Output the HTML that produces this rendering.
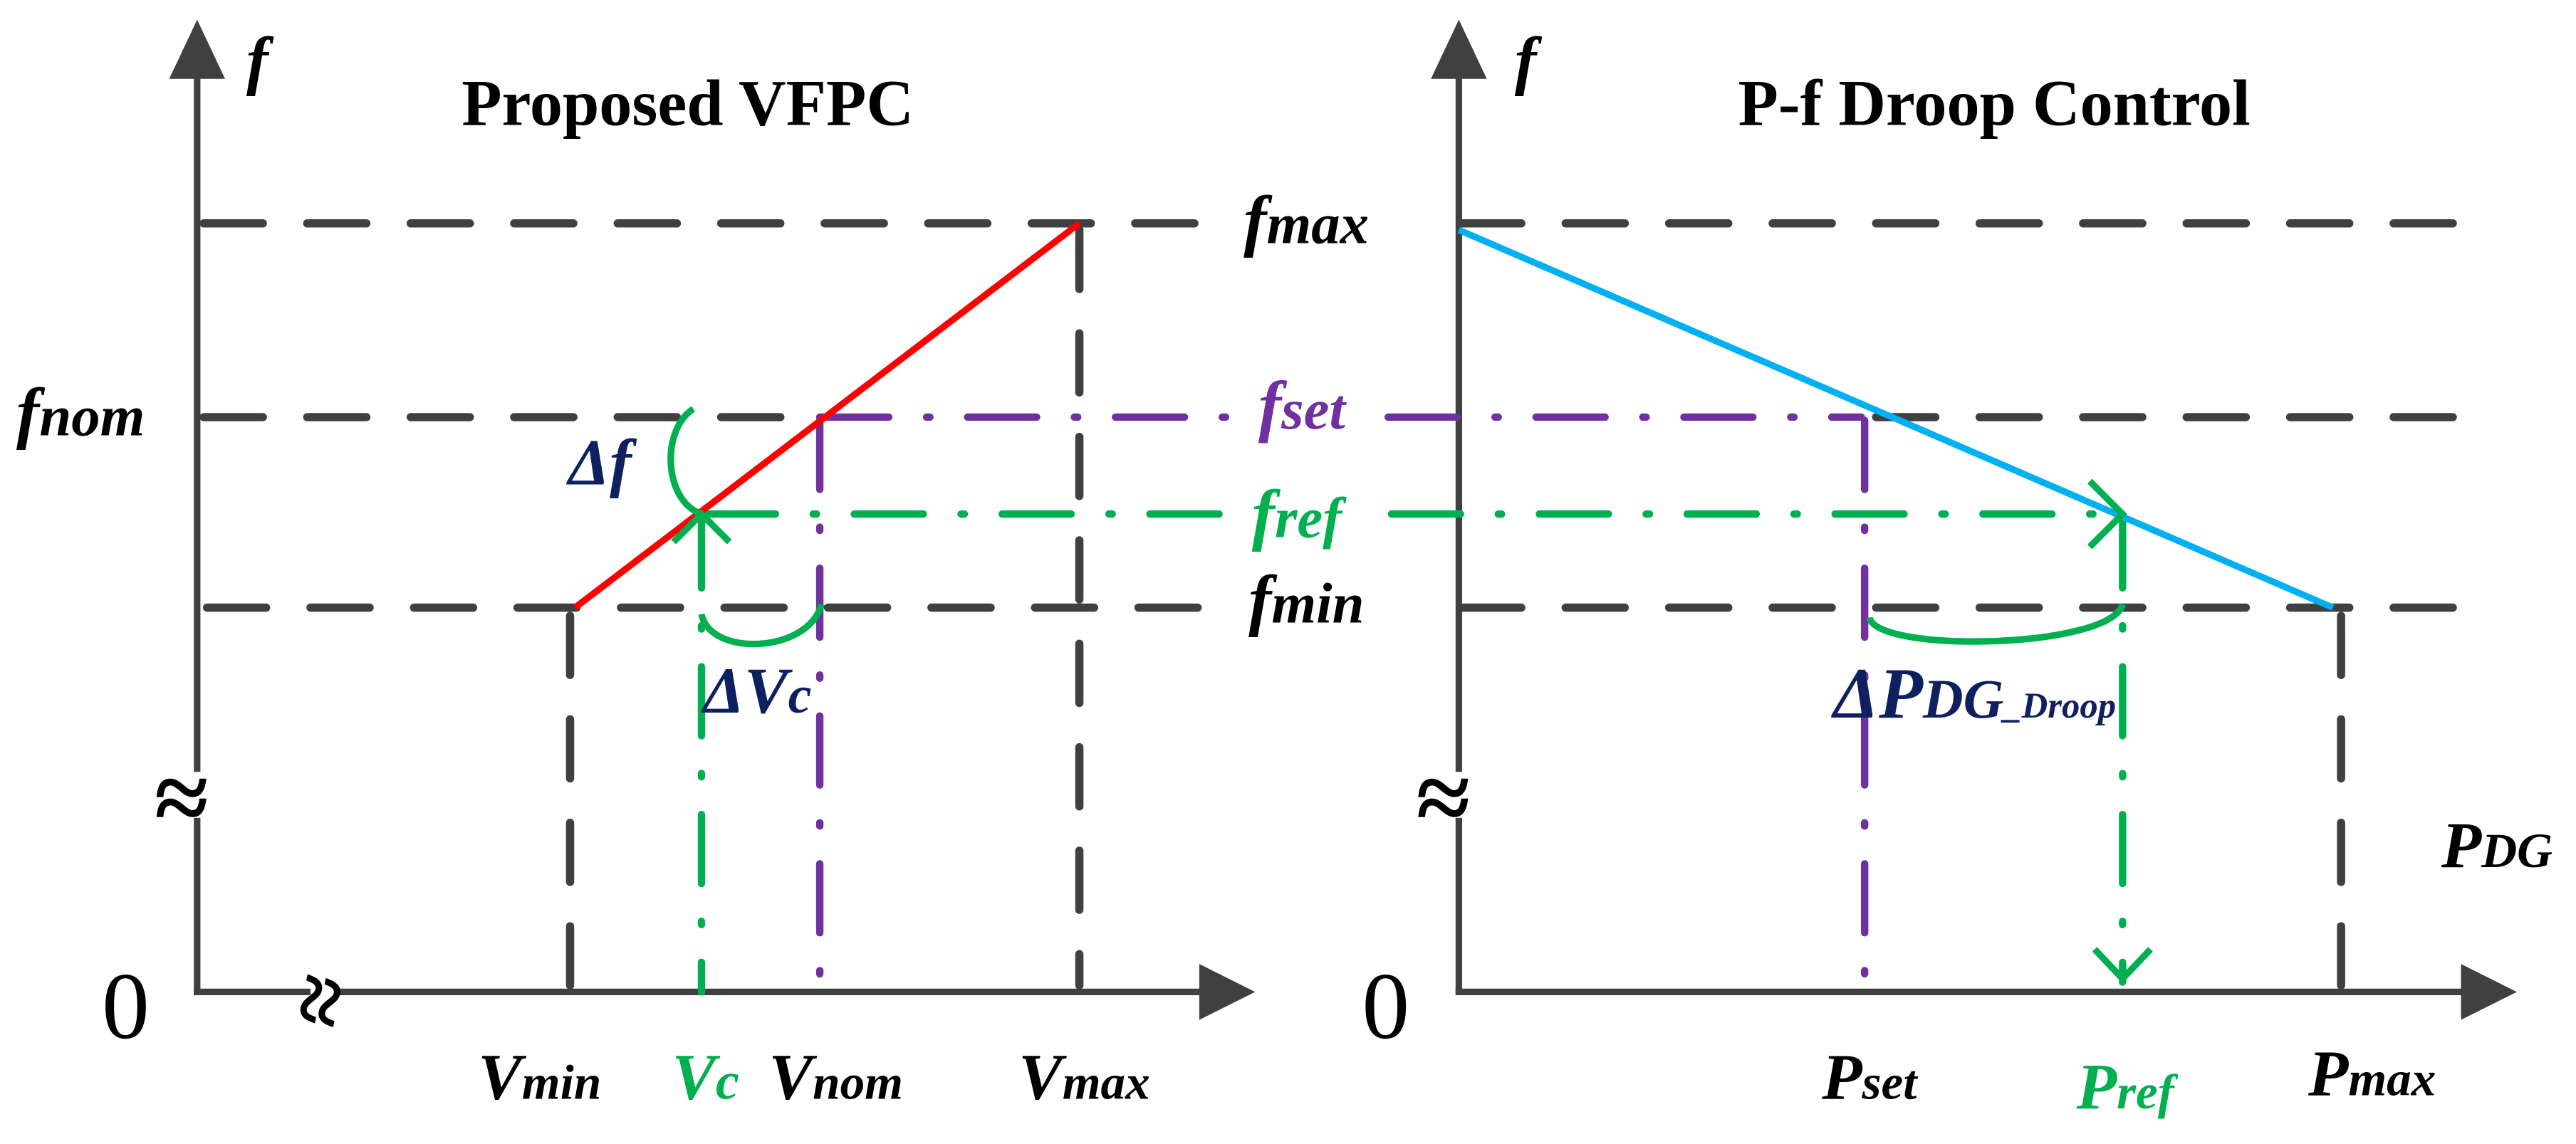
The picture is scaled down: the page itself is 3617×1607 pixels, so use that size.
<!DOCTYPE html>
<html><head><meta charset="utf-8"><style>html,body{margin:0;padding:0;background:#fff}svg{display:block}text{font-family:"Liberation Serif",serif;font-weight:bold;font-style:italic}text.n{font-style:normal}text.z{font-style:normal;font-weight:normal}</style></head>
<body>
<svg width="3617" height="1607" viewBox="0 0 1568 696.6" preserveAspectRatio="none" xmlns="http://www.w3.org/2000/svg">
<defs>
<style>
.ax{stroke:#404040;stroke-width:4;fill:none}
.dk{stroke:#404040;stroke-width:5;fill:none;stroke-dasharray:36 27;stroke-linecap:round}
.pu{stroke:#7030a0;stroke-width:4.5;fill:none;stroke-dasharray:42 23 2 23;stroke-linecap:round}
.gr{stroke:#00b050;stroke-width:4.5;fill:none;stroke-dasharray:42 23 2 23;stroke-linecap:round}
.gs{stroke:#00b050;stroke-width:4;fill:none}
</style>
</defs>
<line class="ax" x1="120" y1="606" x2="120" y2="40"/>
<polygon points="120,12 103,48 137,48" fill="#404040"/>
<line class="ax" x1="118" y1="604" x2="738" y2="604"/>
<polygon points="764,604 730,587 730,621" fill="#404040"/>
<line class="ax" x1="888" y1="606" x2="888" y2="40"/>
<polygon points="888,12 871,48 905,48" fill="#404040"/>
<line class="ax" x1="886" y1="604" x2="1505" y2="604"/>
<polygon points="1532,604 1498,587 1498,621" fill="#404040"/>

<line class="dk" x1="124" y1="136" x2="748" y2="136"/>
<line class="dk" x1="890" y1="136" x2="1500" y2="136"/>
<line class="dk" x1="124" y1="254" x2="480" y2="254"/>
<line class="pu" x1="499" y1="254" x2="753" y2="254"/>
<line class="pu" x1="845" y1="254" x2="1133" y2="254"/>
<line class="dk" x1="1142" y1="254" x2="1500" y2="254"/>
<line class="gr" x1="430" y1="313" x2="753" y2="313"/>
<line class="gr" x1="847" y1="313" x2="1288" y2="313"/>
<line class="dk" x1="126" y1="370" x2="748" y2="370"/>
<line class="dk" x1="890" y1="370" x2="1500" y2="370"/>

<line class="dk" x1="657" y1="140" x2="657" y2="600" stroke-dasharray="40 22"/>
<line class="dk" x1="347" y1="375" x2="347" y2="600"/>
<line class="gr" x1="427" y1="316" x2="427" y2="604"/>
<line class="pu" x1="499" y1="256" x2="499" y2="600"/>
<line class="dk" x1="1425" y1="375" x2="1425" y2="600" stroke-dasharray="40 22"/>
<line class="pu" x1="1135" y1="256" x2="1135" y2="600"/>
<line class="gr" x1="1292" y1="316" x2="1292" y2="598"/>

<line x1="350" y1="370" x2="657" y2="136" stroke="#ff0000" stroke-width="4"/>
<line x1="888" y1="140" x2="1420" y2="370" stroke="#00b0f0" stroke-width="4"/>

<polyline class="gs" points="410,330 427,313 444,330"/>
<polyline class="gs" points="1272,293 1292,313 1272,333"/>
<polyline class="gs" points="1275,578 1292,596 1309,578"/>

<path class="gs" d="M422,249 C402,262 404,305 427,313"/>
<path class="gs" d="M427,374 C432,400 492,398 500,368"/>
<path class="gs" d="M1138,376 C1142,398 1285,395 1292,368"/>

<rect x="108" y="470" width="24" height="28" fill="#fff"/>
<rect x="876" y="470" width="24" height="28" fill="#fff"/>
<text class="n" x="94" y="506" font-size="60" fill="#000">≈</text>
<text class="n" x="862" y="506" font-size="60" fill="#000">≈</text>
<rect x="189" y="596" width="16" height="16" fill="#fff"/>
<text class="n" x="176" y="622" font-size="56" fill="#000" transform="rotate(-78 197 604)">≈</text>

<text class="n" x="281" y="76" font-size="40" fill="#000">Proposed VFPC</text>
<text class="n" x="1058" y="76" font-size="40" fill="#000">P-f Droop Control</text>
<text x="150" y="50" font-size="40" fill="#000">f</text>
<text x="922" y="50" font-size="40" fill="#000">f</text>
<text class="z" x="62" y="632" font-size="58" fill="#000">0</text>
<text class="z" x="829" y="632" font-size="58" fill="#000">0</text>

<text x="757" y="148" font-size="42" fill="#000">f<tspan font-size="35">max</tspan></text>
<text x="10" y="265" font-size="42" fill="#000">f<tspan font-size="35">nom</tspan></text>
<text x="766" y="261" font-size="42" fill="#7030a0">f<tspan font-size="35">set</tspan></text>
<text x="762" y="327" font-size="42" fill="#00b050">f<tspan font-size="35">ref</tspan></text>
<text x="760" y="379" font-size="42" fill="#000">f<tspan font-size="35">min</tspan></text>
<text x="346" y="295" font-size="40" fill="#0f2060">Δf</text>
<text x="428" y="434" font-size="40" fill="#0f2060">ΔV<tspan font-size="32">c</tspan></text>
<text x="1116" y="437" font-size="44" fill="#0f2060">ΔP<tspan font-size="34">DG</tspan><tspan font-size="22">_Droop</tspan></text>
<text x="1486" y="528" font-size="40" fill="#000">P<tspan font-size="30">DG</tspan></text>

<text x="291" y="669" font-size="40" fill="#000">V<tspan font-size="30">min</tspan></text>
<text x="409" y="669" font-size="40" fill="#00b050">V<tspan font-size="32">c</tspan></text>
<text x="468" y="669" font-size="40" fill="#000">V<tspan font-size="30">nom</tspan></text>
<text x="620" y="669" font-size="40" fill="#000">V<tspan font-size="30">max</tspan></text>
<text x="1109" y="669" font-size="40" fill="#000">P<tspan font-size="30">set</tspan></text>
<text x="1264" y="675" font-size="40" fill="#00b050">P<tspan font-size="30">ref</tspan></text>
<text x="1405" y="667" font-size="40" fill="#000">P<tspan font-size="30">max</tspan></text>
</svg>
</body></html>
